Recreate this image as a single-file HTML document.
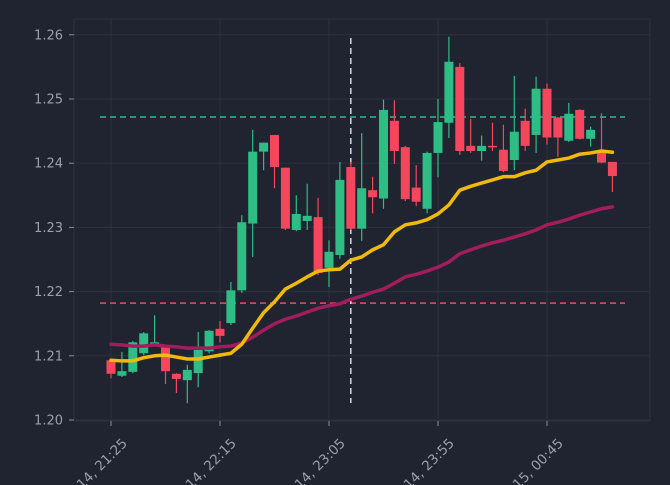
<!DOCTYPE html>
<html><head><meta charset="utf-8"><style>
html,body{margin:0;padding:0;background:#1f2430;width:670px;height:485px;overflow:hidden;}
svg{display:block;font-family:"DejaVu Sans","Liberation Sans",sans-serif;overflow:hidden;}
</style></head><body>
<svg id="chart" width="670" height="485" viewBox="0 0 670 485" xmlns="http://www.w3.org/2000/svg">
<rect x="0" y="0" width="670" height="485" fill="#1f2430"/>
<rect x="74" y="19" width="576" height="402" fill="#1f2430" stroke="#2c313c" stroke-width="1"/>
<g id="grid"></g><g id="axes"></g><g id="refs"></g><g id="candles"></g><g id="lines"></g>
</svg>
<script>
const opens=[1.2093,1.2069,1.2075,1.2104,1.2119,1.2114,1.2072,1.2062,1.2073,1.2107,1.2142,1.2151,1.2202,1.2306,1.2418,1.2444,1.2393,1.2296,1.2310,1.2316,1.2237,1.2257,1.2394,1.2298,1.2358,1.2345,1.2466,1.2425,1.2362,1.2329,1.2416,1.2463,1.2550,1.2427,1.2419,1.2427,1.2421,1.2405,1.2466,1.2444,1.2516,1.2471,1.2435,1.2483,1.2438,1.2418,1.2402];
const highs=[1.2095,1.2106,1.2123,1.2137,1.2163,1.2116,1.2073,1.2086,1.2137,1.2140,1.2154,1.2215,1.2319,1.2452,1.2432,1.2444,1.2393,1.2350,1.2368,1.2346,1.2280,1.2402,1.2402,1.2447,1.2379,1.2499,1.2498,1.2427,1.2397,1.2418,1.2500,1.2597,1.2556,1.2469,1.2443,1.2463,1.2460,1.2536,1.2485,1.2535,1.2524,1.2472,1.2494,1.2484,1.2457,1.2478,1.2402];
const lows=[1.2065,1.2067,1.2073,1.2101,1.2118,1.2056,1.2042,1.2026,1.2051,1.2104,1.2121,1.2148,1.2198,1.2254,1.2389,1.2361,1.2296,1.2294,1.2296,1.2226,1.2207,1.2251,1.2296,1.2279,1.2322,1.2329,1.2399,1.2341,1.2333,1.2322,1.2378,1.2439,1.2413,1.2416,1.2404,1.2419,1.2386,1.2389,1.2419,1.2416,1.2429,1.2410,1.2433,1.2437,1.2426,1.2400,1.2355];
const closes=[1.2072,1.2076,1.2121,1.2135,1.2121,1.2076,1.2064,1.2078,1.2109,1.2139,1.2131,1.2202,1.2308,1.2418,1.2432,1.2394,1.2298,1.2321,1.2318,1.2229,1.2262,1.2374,1.2298,1.2361,1.2347,1.2483,1.2419,1.2344,1.2340,1.2416,1.2464,1.2558,1.2419,1.2419,1.2427,1.2425,1.2388,1.2449,1.2427,1.2516,1.2440,1.2440,1.2477,1.2438,1.2452,1.2401,1.2380];
const maFast=[1.2093,1.2092,1.2092,1.2097,1.2100,1.2101,1.2098,1.2095,1.2095,1.2098,1.2101,1.2104,1.2118,1.2143,1.2167,1.2184,1.2204,1.2213,1.2223,1.2232,1.2234,1.2235,1.2249,1.2254,1.2265,1.2273,1.2293,1.2304,1.2307,1.2312,1.2321,1.2335,1.2358,1.2364,1.2369,1.2374,1.2379,1.2379,1.2385,1.2389,1.2402,1.2405,1.2408,1.2414,1.2416,1.2419,1.2417];
const maSlow=[1.2118,1.2117,1.2115,1.2115,1.2117,1.2115,1.2114,1.2112,1.2112,1.2112,1.2114,1.2115,1.2120,1.2129,1.2140,1.2150,1.2157,1.2162,1.2168,1.2174,1.2178,1.2181,1.2188,1.2193,1.2199,1.2204,1.2213,1.2223,1.2227,1.2232,1.2238,1.2246,1.2259,1.2265,1.2271,1.2276,1.2280,1.2285,1.2290,1.2296,1.2304,1.2308,1.2313,1.2319,1.2324,1.2329,1.2332];
const yTicks=[1.20,1.21,1.22,1.23,1.24,1.25,1.26];
const xTickIdx=[0,10,20,30,40];
const xTickLabels=["Jan 14, 21:25","Jan 14, 22:15","Jan 14, 23:05","Jan 14, 23:55","Jan 15, 00:45"];
const resistance=1.2472, support=1.2182, markerIdx=22;

const NS="http://www.w3.org/2000/svg";
const y=p=>420-(p-1.20)*6420;
const x=i=>111+i*10.9;
function mk(tag,attrs,parent){const e=document.createElementNS(NS,tag);for(const k in attrs)e.setAttribute(k,attrs[k]);document.getElementById(parent).appendChild(e);return e;}

yTicks.forEach(t=>{
  const g=mk('line',{x1:74,x2:650,y1:y(t),y2:y(t),stroke:'#2c313c','stroke-width':1},'grid');
  
  
  const tk=mk('line',{x1:69,x2:74,y1:y(t),y2:y(t),stroke:'#8a909a','stroke-width':1},'axes');
  
  
  const lb=mk('text',{x:63,y:y(t)+4.5,'text-anchor':'end',fill:'#9aa0aa','font-size':13},'axes');
  lb.textContent=t.toFixed(2);
  
  
});
xTickIdx.forEach((i,k)=>{
  const g=mk('line',{x1:x(i),x2:x(i),y1:19,y2:421,stroke:'#2c313c','stroke-width':1},'grid');
  
  
  const tk=mk('line',{x1:x(i),x2:x(i),y1:421,y2:426,stroke:'#8a909a','stroke-width':1},'axes');
  
  
  const ax=x(i)+17, ay=444;
  const lb=mk('text',{x:ax,y:ay,'text-anchor':'end',fill:'#9aa0aa','font-size':13.5,transform:`rotate(-45 ${ax} ${ay})`},'axes');
  lb.textContent=xTickLabels[k];
  
  
});
const r1=mk('line',{x1:100,x2:625,y1:y(resistance),y2:y(resistance),stroke:'#2ebd8a','stroke-width':1.5,'stroke-dasharray':'6 4'},'refs');


const r2=mk('line',{x1:100,x2:625,y1:y(support),y2:y(support),stroke:'#f6465d','stroke-width':1.5,'stroke-dasharray':'6 4'},'refs');


const vm=mk('line',{x1:x(markerIdx),x2:x(markerIdx),y1:38,y2:403,stroke:'#d8d8d8','stroke-width':1.5,'stroke-dasharray':'6 4'},'refs');



opens.forEach((o,i)=>{
  const c=closes[i], up=c>=o, col=up?'#2ebd85':'#f6465d';
  const w=mk('line',{x1:x(i),x2:x(i),y1:y(highs[i]),y2:y(lows[i]),stroke:col,'stroke-width':1.2},'candles');
  
  
  const top=y(Math.max(o,c)), h=Math.max(1.5,Math.abs(y(o)-y(c)));
  const b=mk('rect',{x:x(i)-4.5,y:top,width:9,height:h,fill:col},'candles');
  
  
});
function line(arr,col){
  return mk('polyline',{points:arr.map((v,i)=>x(i)+','+y(v)).join(' '),fill:'none',stroke:col,'stroke-width':3.5,'stroke-linejoin':'round','stroke-linecap':'round'},'lines');
}
const ls=line(maSlow,'#a31c5e');


const lf=line(maFast,'#f0b90b');


</script>
</body></html>
